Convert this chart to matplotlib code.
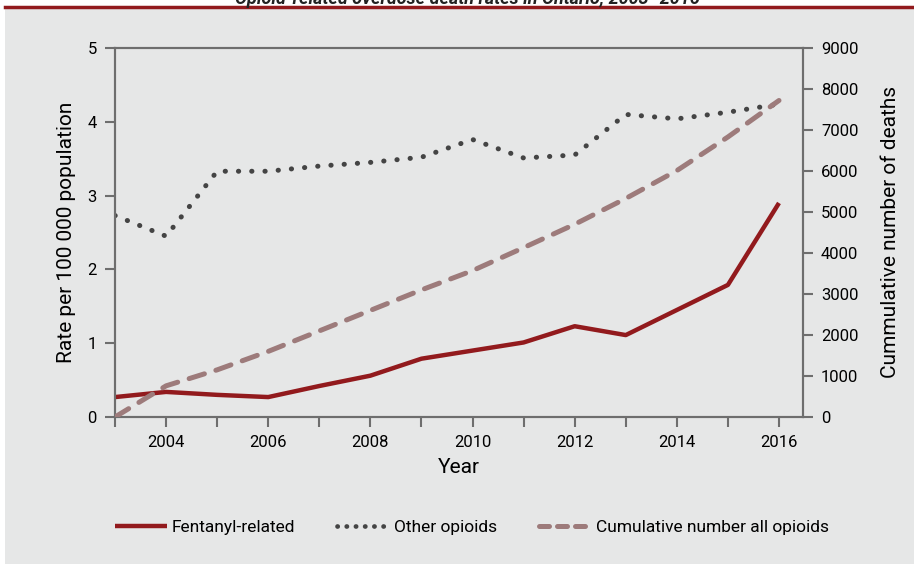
import matplotlib
matplotlib.use("Agg")
import matplotlib.pyplot as plt
from matplotlib.lines import Line2D
import matplotlib.font_manager as fm

years = [2003, 2004, 2005, 2006, 2007, 2008, 2009, 2010, 2011, 2012, 2013, 2014, 2015, 2016]
fentanyl = [0.27, 0.34, 0.30, 0.27, 0.42, 0.56, 0.79, 0.90, 1.01, 1.23, 1.11, 1.45, 1.79, 2.90]
other = [2.73, 2.45, 3.33, 3.33, 3.40, 3.45, 3.52, 3.76, 3.51, 3.55, 4.10, 4.04, 4.13, 4.24]
cumulative = [0, 760, 1150, 1600, 2100, 2600, 3100, 3570, 4130, 4700, 5330, 6010, 6830, 7720]
xtick_labels = ["2004", "2006", "2008", "2010", "2012", "2014", "2016"]

avail = {f.name for f in fm.fontManager.ttflist}
fams = [f for f in ["Liberation Sans Narrow", "DejaVu Sans Condensed", "Roboto", "DejaVu Sans"] if f in avail]
plt.rcParams['font.family'] = fams

BG = "#e6e7e7"
RED = "#921a1d"
DOT = "#444444"
DASH = "#9d7b7b"
AX = "#6e6e6e"
TXT = "#000000"

fig = plt.figure(figsize=(9.14, 5.64), dpi=100)
fig.patch.set_facecolor(BG)
# white strips (top and left) and red top rule
fig.add_artist(plt.Rectangle((0, 1 - 7/564), 1, 7/564, transform=fig.transFigure,
                             facecolor="white", edgecolor="none", zorder=-5))
fig.add_artist(plt.Rectangle((0, 0), 5/914, 1, transform=fig.transFigure,
                             facecolor="white", edgecolor="none", zorder=-5))
fig.add_artist(Line2D([5/914, 1], [1 - 7/564, 1 - 7/564], transform=fig.transFigure,
                      color=RED, lw=2.5, zorder=-4))
fig.text(467/914, 1 + 1/564, "Opioid-related overdose death rates in Ontario, 2003–2016",
         ha="center", va="center", fontsize=13, fontweight="bold", fontstyle="italic", color="#222222")

ax = fig.add_axes([115/914, 1 - 417/564, (803 - 115)/914, (417 - 48)/564])
ax.set_facecolor("none")
ax2 = ax.twinx()

ax.plot(years, fentanyl, color=RED, lw=3.2, solid_capstyle="butt", zorder=3)
ax.plot(years, other, color=DOT, lw=3.6, linestyle=(0, (0.05, 2.6)), dash_capstyle="round", zorder=3)
ax2.plot(years, cumulative, color=DASH, lw=3.6, linestyle=(0, (3.2, 2.4)), dash_capstyle="round", zorder=3)

ax.set_xlim(2003, 2016.47)
ax.set_ylim(0, 5)
ax2.set_ylim(0, 9000)
ax.set_yticks([0, 1, 2, 3, 4, 5])
ax2.set_yticks(range(0, 9001, 1000))
ax.set_xticks(years)
ax.set_xticklabels([str(y) if str(y) in xtick_labels else "" for y in years])

for a in (ax, ax2):
    for s in a.spines.values():
        s.set_color(AX)
        s.set_linewidth(1.5)
    a.tick_params(colors=AX, width=1.5, length=7, labelsize=12, labelcolor=TXT)
ax.tick_params(axis="x", pad=6)
ax.tick_params(axis="y", pad=6)
ax2.tick_params(axis="y", pad=6)

ax.set_xlabel("Year", fontsize=15, color=TXT, labelpad=6)
ax.set_ylabel("Rate per 100 000 population", fontsize=15, color=TXT, labelpad=8)
ax2.set_ylabel("Cummulative number of deaths", fontsize=15, color=TXT, labelpad=16)

handles = [
    Line2D([], [], color=RED, lw=3.2, solid_capstyle="butt"),
    Line2D([], [], color=DOT, lw=3.4, linestyle=(0, (0.05, 1.9)), dash_capstyle="round"),
    Line2D([], [], color=DASH, lw=3.6, linestyle=(0, (2.0, 1.6)), dash_capstyle="round"),
]
labels = ["Fentanyl-related", "Other opioids", "Cumulative number all opioids"]
leg = fig.legend(handles, labels, loc="center", bbox_to_anchor=(472/914, 1 - 527/564), ncol=3,
                 frameon=False, fontsize=12.5, handlelength=3.0, handletextpad=0.3, columnspacing=2.4)
for t in leg.get_texts():
    t.set_color(TXT)

fig.savefig("out.png", dpi=100, facecolor=fig.get_facecolor())
